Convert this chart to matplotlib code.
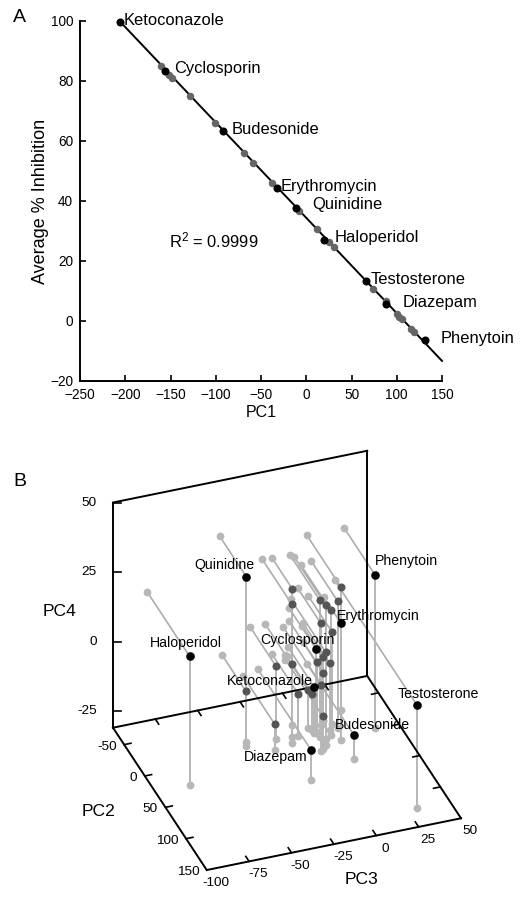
import matplotlib
matplotlib.use("Agg")
import numpy as np
import matplotlib.pyplot as plt

plt.rcParams['font.family'] = ['Liberation Sans', 'DejaVu Sans']
plt.rcParams['mathtext.fontset'] = 'custom'
plt.rcParams['mathtext.rm'] = 'Liberation Sans'
plt.rcParams['mathtext.default'] = 'regular'

# panel A
drug_names = ["Ketoconazole", "Cyclosporin", "Budesonide", "Erythromycin", "Quinidine",
              "Haloperidol", "Testosterone", "Diazepam", "Phenytoin"]
drug_pc1 = [-206, -156, -92, -32, -11.5, 20, 66, 88.5, 131]
drug_inhib = [99.7, 83.5, 63.3, 44.3, 37.7, 27, 13.3, 5.7, -6.3]
other_pc1 = [-160, -152, -148, -128, -101, -69, -59, -37.5, -8.5, 11.4, 25.4, 30.2,
             73.7, 87.6, 100, 102, 106, 115.7, 118.6]
other_inhib = [85, 82, 81, 75, 66, 56, 52.8, 46, 36.6, 30.8, 26.3, 24.6,
               10.8, 6.7, 2.5, 1.5, 0.6, -2.8, -3.6]
fit_pc1 = [-207, 150]
fit_inhib = [100.2, -13.3]
label_pc1 = [-202, -146, -83, -28, 6.6, 31, 71, 106, 148]
label_inhib = [100.3, 84.3, 64, 45, 38.7, 27.7, 14, 6, -5.7]

# panel B, same order as drug_names
drug_pc2 = [-12, -12.4, 35.8, -36, -13, 25.5, 122.5, 52.8, -1.6]
drug_pc3 = [3, 4, 14.5, 24.4, -37, -79.8, 30.7, -14.7, 36.3]
drug_pc4 = [-14.6, -1, -22.3, 0.5, 30, 15.3, 5.9, -20.4, 24]
other_pc2 = [-29, -4.4, -4.4, 0.5, -5, -12.4, 6, -21.3, -19.6, 8, -27, -11, -12.4, -27,
             -15, -12.4, -19, -12.6, -21, -17, 15, 0.7, 13]
other_pc3 = [-6, -12.1, 4.4, 6.8, 10.8, 16.8, 14.3, 9, 15.2, 4.8, 11.5, 4, 12, 11.8,
             -19.2, -10.3, -35.7, -6.3, 1.5, 2.7, 0.4, -23.4, 1.7]
other_pc4 = [18.2, 18.8, 18.2, 17.2, 13.8, 14.6, 24.1, 5.6, 2.1, 2.3, -8.1, -5.5, -7.2, -13.9,
             -4.7, -4.8, -12.8, -16.1, -17.4, -18.1, -7.2, -21.8, -19.1]
pc2_ticks = [-50, 0, 50, 100, 150]
pc3_ticks = [-100, -75, -50, -25, 0, 25, 50]
pc4_ticks = [-25, 0, 25, 50]
pc2_min, pc2_max = -77, 150
pc3_min, pc3_max = -100, 50
pc4_min, pc4_max = -31, 50
# text centres in panel B, in pixels
drug_label_x = [270, 297.3, 372, 378.7, 224, 186, 438, 275.7, 406.7]
drug_label_y = [681, 640, 725, 616, 565, 643, 694, 756.7, 561]


def project(pc2, pc3, pc4):
    # oblique projection of the box onto picture pixels
    a = np.asarray(pc2, dtype=float) - pc2_min
    b = np.asarray(pc3, dtype=float) - pc3_min
    c = np.asarray(pc4, dtype=float) - pc4_min
    return 113 + 0.413 * a + 1.695 * b, 727.7 + 0.627 * a - 0.345 * b - 2.78 * c


fig = plt.figure(figsize=(5.2, 9), dpi=100)

ax = fig.add_axes([80 / 520, 1 - 381 / 900, 362 / 520, 360 / 900])
ax.plot(fit_pc1, fit_inhib, color='black', lw=1.4, zorder=2, clip_on=False)
ax.plot(other_pc1, other_inhib, 'o', color='#666666', ms=5.4, mew=0, zorder=3, clip_on=False)
ax.plot(drug_pc1, drug_inhib, 'o', color='black', ms=5.8, mew=0, zorder=4, clip_on=False)
for name, x, y in zip(drug_names, label_pc1, label_inhib):
    ax.text(x, y, name, fontsize=11.9, ha='left', va='center', zorder=5, clip_on=False)
ax.text(-152, 27, "R$^{2}$ = 0.9999", fontsize=11.9, ha='left', va='center')
ax.set_xlim(-250, 150)
ax.set_ylim(-20, 100)
ax.set_xticks(range(-250, 151, 50))
ax.set_yticks(range(-20, 101, 20))
ax.spines['top'].set_visible(False)
ax.spines['right'].set_visible(False)
ax.spines['left'].set_linewidth(1.4)
ax.spines['bottom'].set_linewidth(1.4)
ax.tick_params(direction='in', length=4.3, width=1.2, labelsize=9.8, pad=5)
ax.set_xlabel("PC1", fontsize=11.5, labelpad=2)
ax.set_ylabel("Average % Inhibition", fontsize=13, labelpad=1)

box = fig.add_axes([0, 0, 1, 1])
box.set_xlim(0, 520)
box.set_ylim(900, 0)
box.axis('off')

all_pc2 = np.array(other_pc2 + drug_pc2)
all_pc3 = np.array(other_pc3 + drug_pc3)
all_pc4 = np.array(other_pc4 + drug_pc4)
shadow_color = '#b7b7b7'

# droplines to the wall and the floor, with their shadow dots
wx, wy = project(np.full_like(all_pc2, pc2_min), all_pc3, all_pc4)
fx, fy = project(all_pc2, all_pc3, np.full_like(all_pc4, pc4_min))
px, py = project(all_pc2, all_pc3, all_pc4)
for i in range(len(px)):
    box.plot([wx[i], px[i]], [wy[i], py[i]], color='#adadad', lw=1.2, zorder=1, solid_capstyle='butt')
    box.plot([fx[i], px[i]], [fy[i], py[i]], color=shadow_color, lw=1.4, zorder=1, solid_capstyle='butt')
box.plot(wx, wy, 'o', color=shadow_color, ms=5.6, mew=0, zorder=2)
box.plot(fx, fy, 'o', color=shadow_color, ms=5.6, mew=0, zorder=2)

# box edges
corners = [
    ((pc2_min, pc3_min, pc4_max), (pc2_min, pc3_min, pc4_min)),
    ((pc2_min, pc3_min, pc4_max), (pc2_min, pc3_max, pc4_max)),
    ((pc2_min, pc3_max, pc4_max), (pc2_min, pc3_max, pc4_min)),
    ((pc2_min, pc3_min, pc4_min), (pc2_min, pc3_max, pc4_min)),
    ((pc2_min, pc3_min, pc4_min), (pc2_max, pc3_min, pc4_min)),
    ((pc2_min, pc3_max, pc4_min), (pc2_max, pc3_max, pc4_min)),
    ((pc2_max, pc3_min, pc4_min), (pc2_max, pc3_max, pc4_min)),
]
for start, end in corners:
    x0, y0 = project(*start)
    x1, y1 = project(*end)
    box.plot([x0, x1], [y0, y1], color='black', lw=1.4, zorder=3, solid_capstyle='projecting')


def tick(start, end):
    x0, y0 = project(*start)
    x1, y1 = project(*end)
    box.plot([x0, x1], [y0, y1], color='black', lw=1.2, zorder=3)


for v in pc4_ticks:
    x0, y0 = project(pc2_min, pc3_min, v)
    box.plot([x0, x0 + 8], [y0, y0], color='black', lw=1.2, zorder=3)
    box.text(x0 - 16, y0, str(v), fontsize=9.7, ha='right', va='center')
for v in pc2_ticks:
    if v < pc2_max:
        tick((v, pc3_min, pc4_min), (v, pc3_min + 4, pc4_min))
        tick((v, pc3_max, pc4_min), (v, pc3_max - 4, pc4_min))
    x0, y0 = project(v, pc3_min, pc4_min)
    box.text(x0 - 7.5, y0 + 2, str(v), fontsize=9.7, ha='right', va='center')
for v in pc3_ticks:
    if pc3_min < v < pc3_max:
        tick((pc2_max, v, pc4_min), (pc2_max - 8, v, pc4_min))
        tick((pc2_min, v, pc4_min), (pc2_min + 8, v, pc4_min))
    x0, y0 = project(pc2_max, v, pc4_min)
    box.text(x0 + 9, y0 + 13, str(v), fontsize=9.7, ha='center', va='center')

ox, oy = project(other_pc2, other_pc3, other_pc4)
box.plot(ox, oy, 'o', color='#555555', ms=5.8, mew=0, zorder=4)
dx, dy = project(drug_pc2, drug_pc3, drug_pc4)
box.plot(dx, dy, 'o', color='black', ms=6.2, mew=0, zorder=5)

for name, x, y in zip(drug_names, drug_label_x, drug_label_y):
    box.text(x, y, name, fontsize=10.2, ha='center', va='center', zorder=6)

box.text(60, 612, "PC4", fontsize=12.6, ha='center', va='center')
box.text(99, 811, "PC2", fontsize=12.6, ha='center', va='center')
box.text(361.7, 880, "PC3", fontsize=12.6, ha='center', va='center')
box.text(13, 17, "A", fontsize=14, ha='left', va='center')
box.text(13, 482, "B", fontsize=14, ha='left', va='center')

fig.savefig("out.png", dpi=100)
